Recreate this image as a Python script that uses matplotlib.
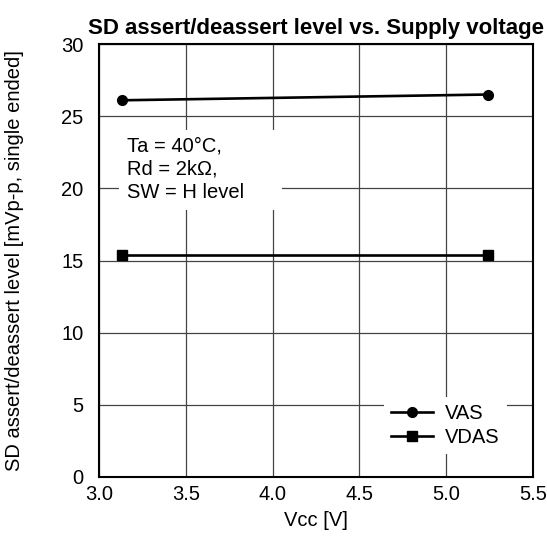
import matplotlib
matplotlib.use("Agg")
import matplotlib.pyplot as plt
from matplotlib.patches import Rectangle

plt.rcParams['font.family'] = ['Liberation Sans', 'DejaVu Sans']

# data
vcc = [3.13, 5.24]
vas = [26.1, 26.5]
vdas = [15.4, 15.4]
xticks = [3.0, 3.5, 4.0, 4.5, 5.0, 5.5]
yticks = [0, 5, 10, 15, 20, 25, 30]

fs = 14.5

fig = plt.figure(figsize=(5.47, 5.36), dpi=100)
ax = fig.add_axes([99/547, 1-477/536, 434/547, 433/536])

ax.plot(vcc, vas, color='black', lw=1.9, marker='o', ms=7, label='VAS', zorder=3)
ax.plot(vcc, vdas, color='black', lw=1.9, marker='s', ms=7.5, label='VDAS', zorder=3)

ax.set_xlim(3.0, 5.5)
ax.set_ylim(0, 30)
ax.set_xticks(xticks)
ax.set_xticklabels(['%.1f' % t for t in xticks])
ax.set_yticks(yticks)
ax.grid(True, color='#444444', lw=0.9)
ax.set_axisbelow(True)
ax.tick_params(length=0, labelsize=fs)
ax.tick_params(axis='y', pad=11)
ax.tick_params(axis='x', pad=6)
for s in ax.spines.values():
    s.set_linewidth(1.5)

ax.set_xlabel('Vcc [V]', fontsize=fs, labelpad=5)
ax.set_ylabel('SD assert/deassert level [mVp-p, single ended]', fontsize=fs, labelpad=27)
ax.set_title('SD assert/deassert level vs. Supply voltage', fontsize=16, fontweight='bold', pad=7)

# white box behind the condition note
ax.add_patch(Rectangle((0.046, 0.617), 0.376, 0.184, transform=ax.transAxes,
                       facecolor='white', edgecolor='none', zorder=1.5))
ax.text(3.16, 23.6, 'Ta = 40\u00b0C,\nRd = 2k\u03a9,\nSW = H level', fontsize=fs,
        va='top', ha='left', linespacing=1.3, zorder=2)

leg = ax.legend(loc='lower right', bbox_to_anchor=(0.94, 0.053), frameon=True,
                fontsize=fs, handlelength=2.1, handletextpad=0.6, borderpad=0.35,
                labelspacing=0.25, borderaxespad=0, fancybox=False)
leg.get_frame().set_edgecolor('none')
leg.get_frame().set_facecolor('white')
leg.get_frame().set_alpha(1)

fig.savefig('out.png', dpi=100)
